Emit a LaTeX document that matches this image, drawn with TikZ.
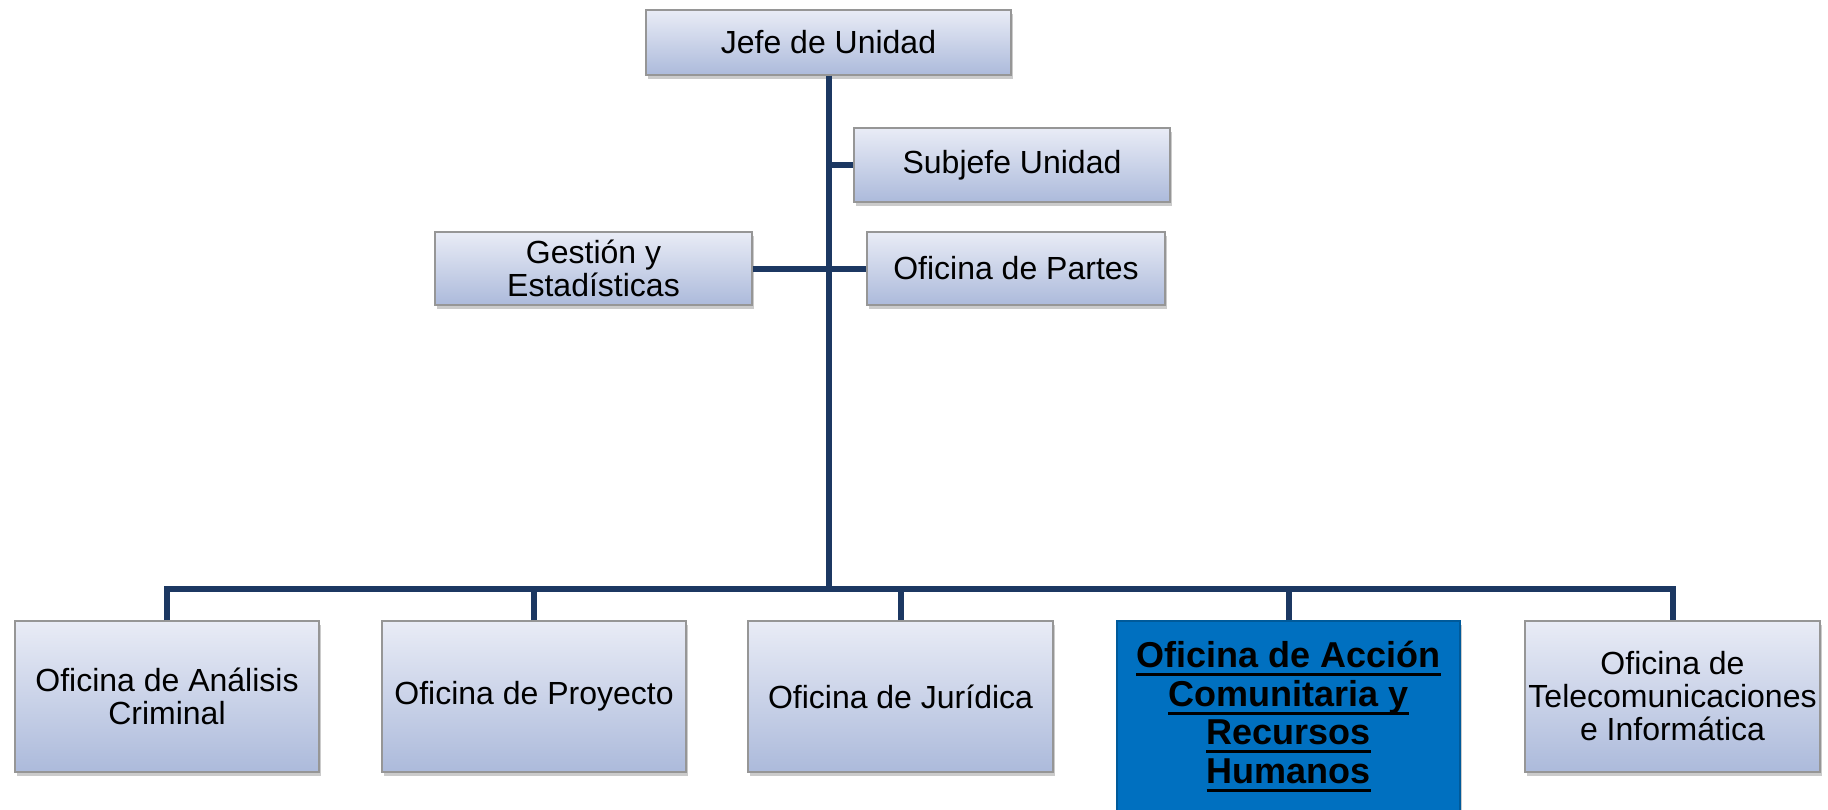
\documentclass[tikz,border=0pt]{standalone}
\usepackage{fontspec}
\setmainfont{Liberation Sans}
\usetikzlibrary{shadows}
\definecolor{boxtop}{RGB}{233,236,246}
\definecolor{boxbot}{RGB}{172,186,219}
\definecolor{boxline}{RGB}{150,150,150}
\definecolor{conn}{RGB}{28,56,98}
\definecolor{hiblue}{RGB}{0,112,192}
\newcommand\myul[1]{\setbox0\hbox{#1}\rlap{\vrule width\wd0 height -5.5pt depth 8.5pt}\box0}
\begin{document}
\begin{tikzpicture}[x=1pt,y=-1pt,
  orgbox/.style={draw=boxline, line width=1.2pt, top color=boxtop, bottom color=boxbot,
    rectangle, inner sep=0pt, align=center,
    font=\fontsize{32}{33}\selectfont,
    drop shadow={shadow xshift=2pt, shadow yshift=-4pt, fill=black!45, opacity=0.45}},
  hibox/.style={draw=hiblue!80!black, line width=1.2pt, fill=hiblue,
    rectangle, inner sep=0pt, align=center,
    font=\fontsize{36}{38.5}\selectfont\bfseries,
    drop shadow={shadow xshift=2pt, shadow yshift=-4pt, fill=black!45, opacity=0.45}},
  link/.style={draw=conn, line width=6pt, line join=miter}]
\useasboundingbox (0,0) rectangle (1828,809);
% nodes
\node[orgbox, minimum width=365pt, minimum height=65pt] (jefe) at (828.5,42.5) {Jefe de Unidad};
\node[orgbox, minimum width=316pt, minimum height=74pt] (subjefe) at (1012,165) {Subjefe Unidad};
\node[orgbox, minimum width=317pt, minimum height=73pt] (gestion) at (593.5,268.5) {Gestión y\\Estadísticas};
\node[orgbox, minimum width=298pt, minimum height=73pt] (partes) at (1016,268.5) {Oficina de Partes};
\node[orgbox, minimum width=304pt, minimum height=151pt] (b1) at (167,696.5) {Oficina de Análisis\\Criminal};
\node[orgbox, minimum width=304pt, minimum height=151pt] (b2) at (534,696.5) {Oficina de Proyecto};
\node[orgbox, minimum width=305pt, minimum height=151pt] (b3) at (900.5,696.5) {Oficina de Jurídica};
\node[hibox, minimum width=343pt, minimum height=191pt] (b4) at (1288.5,716.5)
  {\myul{Oficina de Acción}\\\myul{Comunitaria y}\\\myul{Recursos}\\\myul{Humanos}};
\node[orgbox, minimum width=295pt, minimum height=151pt] (b5) at (1672.5,696.5) {Oficina de\\Telecomunicaciones\\e Informática};
% connectors
\coordinate (bus) at (828.5,589);
\begin{scope}[on background layer/.style={}]
\end{scope}
\draw[link] (jefe.south) -- (bus);
\draw[link] (subjefe.west) -- (subjefe.west -| jefe.south);
\draw[link] (gestion.east) -- (partes.west);
\draw[link] (b1.north) |- (bus) -| (b5.north);
\draw[link] (b2.north) -- (b2.north |- bus);
\draw[link] (b3.north) -- (b3.north |- bus);
\draw[link] (b4.north) -- (b4.north |- bus);
\end{tikzpicture}
\end{document}
